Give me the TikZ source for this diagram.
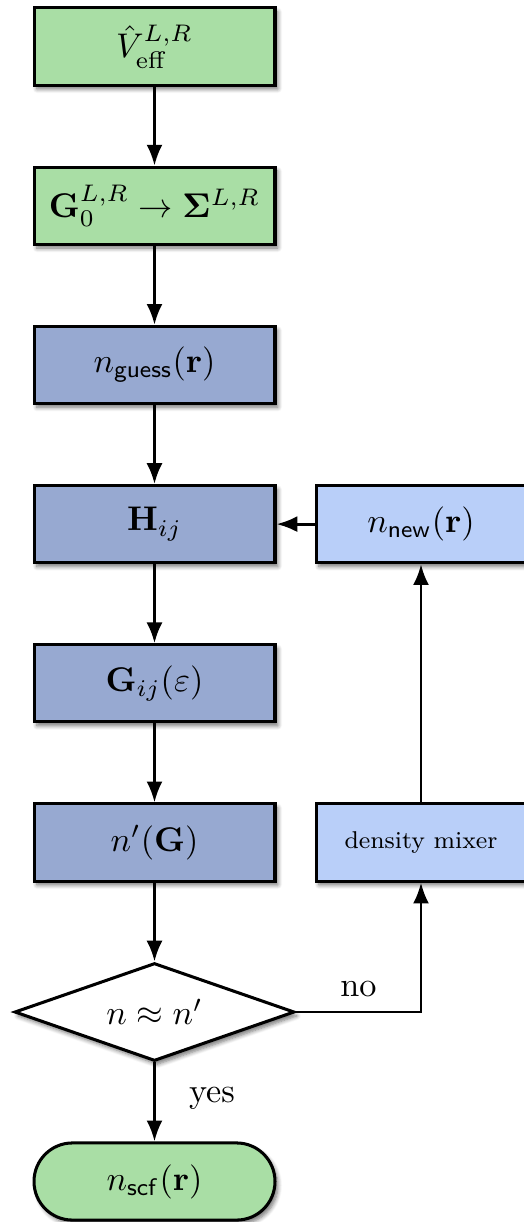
\documentclass[tikz,border=0pt]{standalone}
\usepackage{amsmath}
\usetikzlibrary{shapes.geometric,arrows.meta,shadows.blur}
\definecolor{boxgreen}{RGB}{169,222,165}
\definecolor{boxblue}{RGB}{151,169,209}
\definecolor{boxlight}{RGB}{185,207,249}
\newcommand{\btx}[1]{\scalebox{1.07}{#1}}
\tikzset{
  myshadow/.style={blur shadow={shadow xshift=0.9pt, shadow yshift=-1.2pt, shadow blur steps=6, shadow opacity=55, shadow blur radius=1.3pt}},
  basebox/.style={rectangle, draw=black, line width=0.95pt, minimum width=75.3pt, minimum height=24.1pt, inner sep=0pt, myshadow},
  greenbox/.style={basebox, fill=boxgreen},
  bluebox/.style={basebox, fill=boxblue},
  lightbox/.style={basebox, fill=boxlight, minimum width=65.6pt},
  decision/.style={diamond, aspect=2.86, draw=black, line width=0.95pt, fill=white, minimum width=87.5pt, minimum height=30.6pt, inner sep=0pt, myshadow},
  terminal/.style={basebox, fill=boxgreen, rounded corners=12pt},
  conn/.style={line width=0.9pt, -{Latex[length=6.5pt, width=5pt]}}
}
\begin{document}
\begin{tikzpicture}[x=0.3125pt, y=-0.3125pt]
\useasboundingbox (0,0) rectangle (523,1222);
\node[greenbox] (veff) at (154.5,46.5) {\btx{$\hat{V}_{\mathrm{eff}}^{L,R}$}};
\node[greenbox] (g0) at (154.5,205.7) {\btx{$\mathbf{G}_0^{L,R} \rightarrow \mathbf{\Sigma}^{L,R}$}};
\node[bluebox] (guess) at (154.5,364.9) {\btx{$n_{\mathsf{guess}}(\mathbf{r})$}};
\node[bluebox] (h) at (154.5,524.1) {\btx{$\mathbf{H}_{ij}$}};
\node[bluebox] (g) at (154.5,683.3) {\btx{$\mathbf{G}_{ij}(\varepsilon)$}};
\node[bluebox] (np) at (154.5,842.5) {\btx{$n'(\mathbf{G})$}};
\node[lightbox] (nnew) at (421,524.1) {\btx{$n_{\mathsf{new}}(\mathbf{r})$}};
\node[lightbox] (mix) at (421,842.5) {\scalebox{0.95}{\footnotesize density mixer}};
\node[decision] (dec) at (154.5,1012) {\btx{$n \approx n'$}};
\node[terminal] (scf) at (154.5,1181.5) {\btx{$n_{\mathsf{scf}}(\mathbf{r})$}};
\draw[conn] (veff) -- (g0);
\draw[conn] (g0) -- (guess);
\draw[conn] (guess) -- (h);
\draw[conn] (h) -- (g);
\draw[conn] (g) -- (np);
\draw[conn] (np) -- (dec);
\draw[conn] (dec) -- node[right=7pt, yshift=1pt] {\btx{yes}} (scf);
\draw[conn] (dec.east) -| node[pos=0.25, above=1pt] {\btx{no}} (mix.south);
\draw[conn] (mix) -- (nnew);
\draw[conn] (nnew) -- (h);
\end{tikzpicture}
\end{document}
